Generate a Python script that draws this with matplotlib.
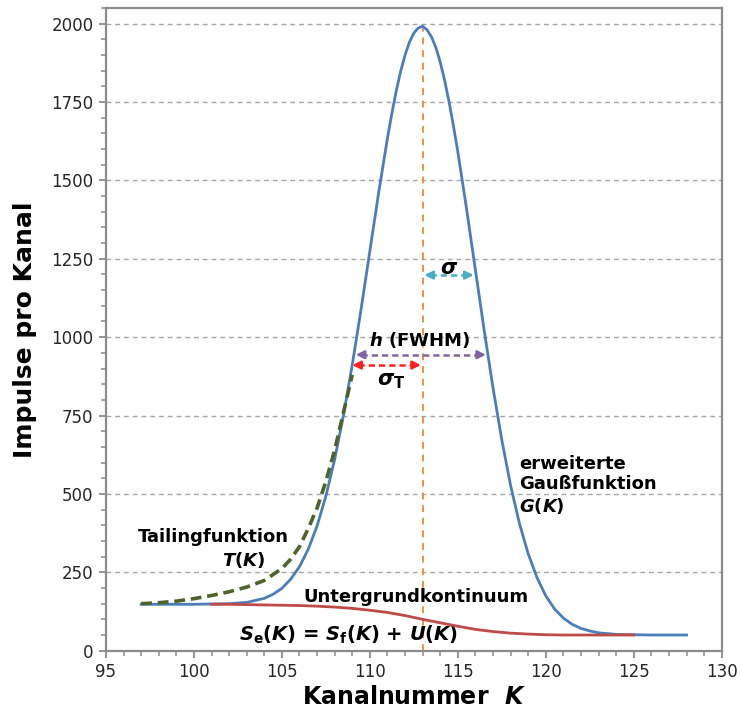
import numpy as np
import matplotlib
matplotlib.use("Agg")
import matplotlib.pyplot as plt
from matplotlib.ticker import MultipleLocator

# Kanalnummer / Impulse
k_gauss = [97, 98, 99, 100, 101, 102, 103, 104, 104.5, 105, 105.5, 106, 106.5,
           107, 107.5, 108, 108.5, 109, 109.5, 110, 110.5, 111, 111.25, 111.5,
           111.75, 112, 112.25, 112.5, 112.75, 113, 113.25, 113.5, 113.75, 114,
           114.25, 114.5, 114.75, 115, 115.5, 116, 116.5, 117, 117.5,
           118, 118.5, 119, 119.5, 120, 120.5, 121, 121.5, 122, 122.5, 123,
           124, 125, 126, 127, 128]
g_gauss = [148, 148, 148, 148, 149, 150, 154, 167, 180, 199, 228, 268, 324,
           398, 493, 610, 751, 912, 1089, 1275, 1461, 1635, 1714, 1785,
           1848, 1900, 1941, 1970, 1986, 1992, 1980, 1958, 1924, 1877,
           1819, 1751, 1674, 1591, 1408, 1214, 1021, 838, 672,
           527, 406, 309, 233, 175, 133, 104, 84, 71, 63, 57,
           52, 51, 50, 50, 50]

k_tail = [97, 98, 99, 100, 101, 102, 103, 104, 105, 105.5, 106, 106.5, 107,
          107.5, 108, 108.5, 109]
t_tail = [150, 153, 158, 166, 176, 188, 203, 224, 262, 292, 332, 390, 455,
          540, 640, 760, 880]

k_bg = [101, 102, 103, 104, 105, 106, 107, 108, 109, 110, 111, 112, 113,
        114, 115, 116, 117, 118, 119, 120, 121, 122, 123, 124, 125]
u_bg = [148, 148, 147, 146, 145, 144, 142, 139, 135, 129, 122, 112, 100,
        89, 78, 68, 61, 56, 53, 51, 50, 50, 50, 50, 50]

k_peak = 113

plt.rcParams['font.family'] = ['DejaVu Sans']
plt.rcParams['mathtext.fontset'] = 'custom'
plt.rcParams['mathtext.rm'] = 'DejaVu Sans:bold'
plt.rcParams['mathtext.it'] = 'DejaVu Sans:italic:bold'
plt.rcParams['mathtext.bf'] = 'DejaVu Sans:bold'

fig = plt.figure(figsize=(7.41, 7.12), dpi=100)
ax = fig.add_axes([0.143, 0.0861, 0.831, 0.9027])

ax.plot(k_gauss, g_gauss, color='#4A7EBB', lw=2.0, zorder=3)
ax.plot(k_tail, t_tail, color='#4F6228', lw=2.6, dashes=(3.0, 1.6), zorder=4)
ax.plot(k_bg, u_bg, color='#BE4B48', lw=2.0, zorder=4)

ax.plot([k_peak, k_peak], [0, 1990], color='#F0923C', lw=1.4,
        dashes=(3.5, 3.0), zorder=2)


def pfeil(x0, x1, y, col):
    ax.plot([x0 + 0.3, x1 - 0.3], [y, y], color=col, lw=1.8, dashes=(2.5, 1.6), zorder=5)
    for a, b in ((x0, x0 + 0.5), (x1, x1 - 0.5)):
        ax.annotate('', xy=(a, y), xytext=(b, y),
                    arrowprops=dict(arrowstyle='-|>', color=col, lw=1.8,
                                    mutation_scale=12, shrinkA=0, shrinkB=0),
                    zorder=5)


pfeil(113.1, 115.9, 1198, '#4BACC6')
pfeil(109.2, 116.6, 944, '#8064A2')
pfeil(109.0, 112.9, 911, '#FF1F1F')

ax.text(114.5, 1222, r'$\sigma$', fontsize=15, ha='center', va='center')
ax.text(112.8, 990, r'$h$ (FWHM)', fontsize=13, fontweight='bold', ha='center', va='center')
ax.text(111.2, 860, r'$\sigma_\mathrm{T}$', fontsize=15, ha='center', va='center')

ax.text(118.5, 527, 'erweiterte\nGaußfunktion\n$G(K)$', fontsize=13,
        fontweight='bold', ha='left', va='center', linespacing=1.15)
ax.text(101.1, 362, 'Tailingfunktion', fontsize=13, fontweight='bold',
        ha='center', va='center')
ax.text(102.8, 289, r'$T(K)$', fontsize=13, ha='center', va='center')
ax.text(112.6, 171, 'Untergrundkontinuum', fontsize=13, fontweight='bold',
        ha='center', va='center')
ax.text(108.8, 50, r'$S_\mathrm{e}(K)$ = $S_\mathrm{f}(K)$ + $U(K)$', fontsize=14,
        fontweight='bold', ha='center', va='center')

ax.set_xlim(95, 130)
ax.set_ylim(0, 2050)
ax.xaxis.set_major_locator(MultipleLocator(5))
ax.xaxis.set_minor_locator(MultipleLocator(1))
ax.set_yticks(np.arange(0, 2001, 250))
ax.yaxis.set_minor_locator(MultipleLocator(50))
ax.grid(axis='y', color='#A6A6A6', lw=1.0, dashes=(3.5, 2.8))
ax.set_axisbelow(True)

for s in ax.spines.values():
    s.set_color('#8C8C8C')
    s.set_linewidth(1.6)
ax.tick_params(which='major', direction='out', length=5, width=1.3,
               color='#8C8C8C', labelsize=12, labelcolor='#262626', pad=4)
ax.tick_params(which='minor', direction='out', length=3.5, width=1.1, color='#8C8C8C')

ax.set_xlabel(r'Kanalnummer  $K$', fontsize=17, fontweight='bold', labelpad=3)
ax.set_ylabel('Impulse pro Kanal', fontsize=18, fontweight='bold', labelpad=10)

fig.savefig('out.png', dpi=100)
